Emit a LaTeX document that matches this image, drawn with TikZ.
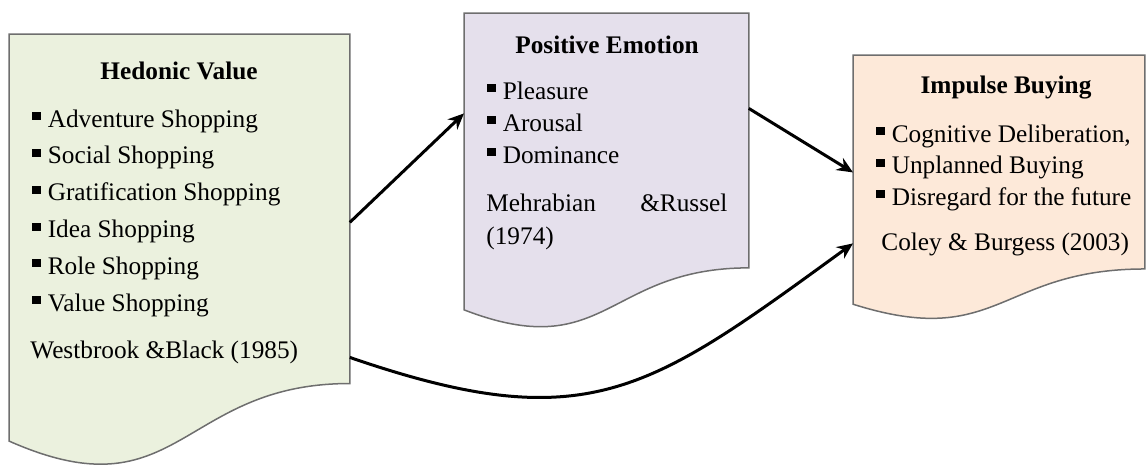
\documentclass[tikz,border=0pt]{standalone}
\usepackage{fontspec}
\setmainfont{Liberation Serif}
\usetikzlibrary{arrows.meta,calc,positioning}

\definecolor{hvfill}{RGB}{235,241,222}
\definecolor{pefill}{RGB}{229,224,236}
\definecolor{ibfill}{RGB}{253,233,217}
\definecolor{boxline}{RGB}{110,110,110}

% small square bullet
\newcommand{\sqb}{\rule[3.4pt]{4.2pt}{4pt}\hspace{3.5pt}}
% document outline round an empty node
\newcommand{\docshape}[2]{%
  \draw[#2] (#1.north west) -- (#1.north east)
    -- ($(#1.north east)!0.802!(#1.south east)$)
    .. controls ($(#1.north)!0.802!(#1.south)$) and ($(#1.north)!1.107!(#1.south)$)
    .. ($(#1.north west)!0.934!(#1.south west)$) -- cycle;}

\begin{document}
\begin{tikzpicture}[x=0.5pt,y=-0.5pt,>={Stealth[length=8pt,width=7pt]},
  box/.style={rectangle,inner sep=0pt,anchor=north west},
  doc/.style={draw=boxline,line width=0.75pt},
  txt/.style={inner sep=0pt,font=\fontsize{12.65}{15}\selectfont},
  head/.style={txt,font=\fontsize{12.65}{15}\selectfont\bfseries,anchor=base},
  item/.style={txt,anchor=base west},
  conn/.style={->,line width=1.5pt}]
  \useasboundingbox (0,0) rectangle (1146,467);

  \node[box,minimum width=170pt,minimum height=217.5pt] (hv) at (9,34) {};
  \node[box,minimum width=142pt,minimum height=158.5pt] (pe) at (464,13) {};
  \node[box,minimum width=145.5pt,minimum height=133pt] (ib) at (853,55) {};

  \docshape{hv}{doc,fill=hvfill}
  \docshape{pe}{doc,fill=pefill}
  \docshape{ib}{doc,fill=ibfill}

  % Hedonic Value
  \node[head] (hvhead) at (179,79) {Hedonic Value};
  \foreach \t [count=\i from 0] in {Adventure Shopping,Social Shopping,
      Gratification Shopping,Idea Shopping,Role Shopping,Value Shopping}
    \node[item] (hvitem\i) at (32,{127+36.8*\i}) {\sqb\t};
  \node[item] (hvref) at (30,358) {Westbrook \&Black (1985)};

  % Positive Emotion
  \node[head] (pehead) at (607,53) {Positive Emotion};
  \foreach \t [count=\i from 0] in {Pleasure,Arousal,Dominance}
    \node[item] (peitem\i) at (487,{99+32*\i}) {\sqb\t};
  \node[item] (peref) at (486,211) {\makebox[120.5pt]{Mehrabian\hfill\&Russel}};
  \node[item] (peyear) at (486,244) {(1974)};

  % Impulse Buying
  \node[head] (ibhead) at (1006,93) {Impulse Buying};
  \foreach \t [count=\i from 0] in {{Cognitive Deliberation,},Unplanned Buying,
      Disregard for the future}
    \node[item] (ibitem\i) at (876,{142+31.5*\i}) {\sqb\t};
  \node[item] (ibref) at (881,250) {Coley \& Burgess (2003)};

  \draw[conn] ([yshift=14.75pt]hv.east) -- ([yshift=29.25pt]pe.west);
  \draw[conn] ([yshift=31.75pt]pe.east) -- ([yshift=8pt]ib.west);
  \draw[conn] ([yshift=-52.75pt]hv.east) to[out=-19,in=216,looseness=1.25]
    ([yshift=-27.5pt]ib.west);
\end{tikzpicture}
\end{document}
